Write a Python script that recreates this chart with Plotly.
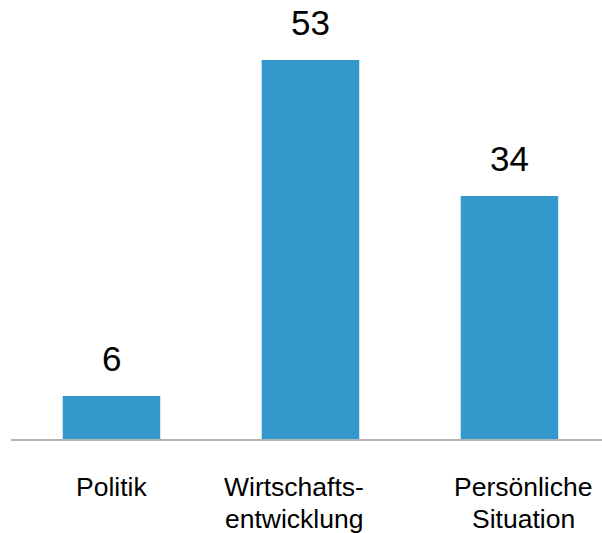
import plotly.graph_objects as go

categories = ["Politik", "Wirtschaftsentwicklung", "Persönliche Situation"]
tick_labels = ["Politik", "Wirtschafts-<br>entwicklung", "Persönliche<br>Situation"]
values = [6, 53, 34]

# styling (label offsets in px, not data)
label_xshift = [0, -16, 14]
bar_color = "#3399cc"
font_family = "Arial, Liberation Sans, sans-serif"
label_size = 26.5
value_size = 35
line_gap = 31.7

x_idx = list(range(len(categories)))

fig = go.Figure(go.Bar(
    x=x_idx, y=values, width=0.49,
    marker=dict(color=bar_color, line=dict(width=0)),
    hoverinfo="skip",
))

annotations = []
for i, v in enumerate(values):
    annotations.append(dict(
        x=i, y=v, xref="x", yref="y", text=str(v), showarrow=False,
        yanchor="bottom", yshift=16,
        font=dict(size=value_size, color="#000000", family=font_family),
    ))
for i, lab in enumerate(tick_labels):
    for j, line in enumerate(lab.split("<br>")):
        annotations.append(dict(
            x=i, y=0, xref="x", yref="paper", text=line, showarrow=False,
            yanchor="top", yshift=-31 - j * line_gap, xshift=label_xshift[i],
            font=dict(size=label_size, color="#000000", family=font_family),
        ))

fig.update_layout(
    width=602, height=533,
    margin=dict(l=11, r=0, t=0, b=94),
    paper_bgcolor="white", plot_bgcolor="white",
    showlegend=False,
    font=dict(family=font_family),
    annotations=annotations,
    xaxis=dict(range=[-0.505, 2.465], showticklabels=False, ticks="",
               showgrid=False, zeroline=False,
               showline=True, linecolor="#b3b3b3", linewidth=2, fixedrange=True),
    yaxis=dict(range=[0, 61.4], visible=False, showgrid=False, zeroline=False,
               fixedrange=True),
)

fig.write_html(
    "out.html",
    config={"displayModeBar": False},
    post_script="document.body.style.margin='0';",
)
